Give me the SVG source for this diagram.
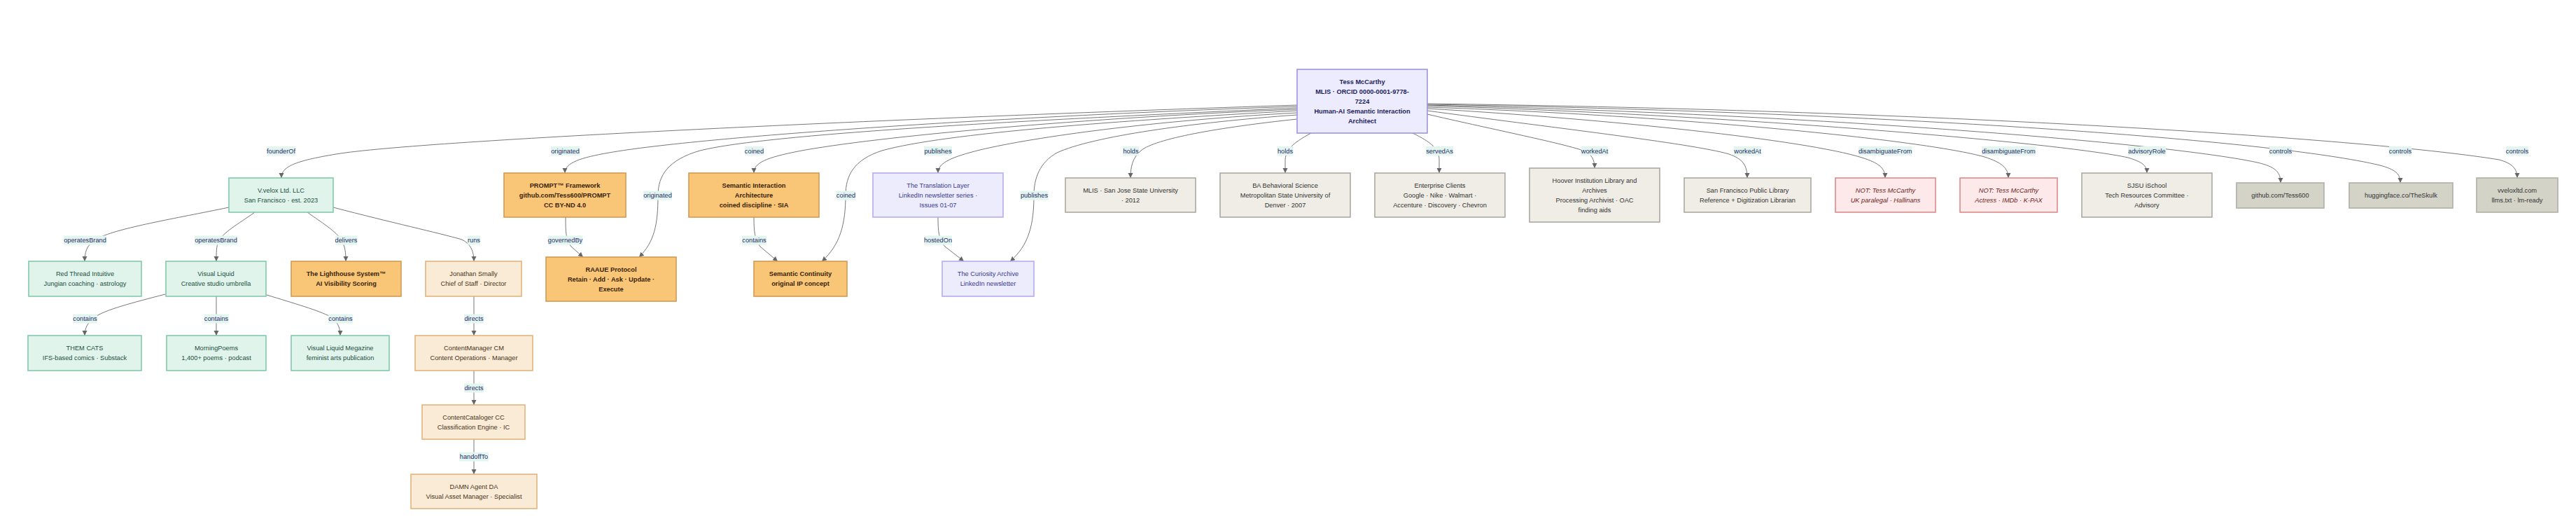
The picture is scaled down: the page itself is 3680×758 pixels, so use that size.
<svg xmlns="http://www.w3.org/2000/svg" width="3680" height="758" viewBox="0 0 3680 758">
<style>
text{font-family:"Liberation Sans",Arial,Helvetica,sans-serif;font-size:9.25px;text-anchor:middle}
.e{fill:none;stroke:#777;stroke-width:1;marker-end:url(#ah)}
.lb{fill:#e2f5ee}
.lt{fill:#2b2b6b}
.n rect{stroke-width:1.6}
.tess rect{fill:#ececfe;stroke:#9e94e0}
.tess text{fill:#1e1e5a;font-weight:bold}
.grn rect{fill:#e0f4ec;stroke:#82c9ab}
.grn text{fill:#1f4f3f}
.org rect{fill:#f9c678;stroke:#d19a55}
.org text{fill:#3a2408;font-weight:bold}
.pch rect{fill:#faebd7;stroke:#e3b57e}
.pch text{fill:#4a3520}
.pur rect{fill:#ececfc;stroke:#b4acf0}
.pur text{fill:#3b3b8f}
.gry rect{fill:#f0ede6;stroke:#aaa8a2}
.gry text{fill:#333}
.not rect{fill:#fde9e9;stroke:#dc8a8a}
.not text{fill:#6a1e1e;font-style:italic}
.dgr rect{fill:#d4d3c8;stroke:#b0afa6}
.dgr text{fill:#333}
</style>
<defs>
<marker id="ah" markerUnits="userSpaceOnUse" markerWidth="8" markerHeight="8" refX="7" refY="3.5" orient="auto">
<path d="M0,0 L7,3.5 L0,7 z" fill="#666"/>
</marker>
</defs>
<rect width="3680" height="758" fill="#ffffff"/>
<g id="connectors">
<path class="e" d="M1853,150 C1300,168 600,200 480,220 C420,230 402,238 402,254"/>
<path class="e" d="M1853,152 C1450,165 1000,195 870,218 C830,225 807,232 807,247"/>
<path class="e" d="M1853,154 C1500,170 1100,190 1000,215 C955,228 940,250 940,279 C940,320 935,345 913,367"/>
<path class="e" d="M1853,156 C1550,168 1250,195 1140,216 C1095,225 1077,232 1077,247"/>
<path class="e" d="M1853,158 C1600,172 1350,190 1260,215 C1220,228 1208,250 1208,279 C1208,320 1200,350 1174,373"/>
<path class="e" d="M1853,161 C1650,172 1480,195 1400,214 C1360,224 1340,232 1340,247"/>
<path class="e" d="M1853,164 C1700,175 1560,195 1510,218 C1485,232 1477,255 1477,279 C1477,320 1470,350 1443,373"/>
<path class="e" d="M1853,170 C1740,182 1650,198 1630,215 C1618,225 1615,238 1615,254"/>
<path class="e" d="M1873,190 C1845,205 1836,215 1836,230 L1836,247"/>
<path class="e" d="M2018,190 C2045,203 2056,213 2056,228 L2056,247"/>
<path class="e" d="M2039,163 C2120,182 2230,204 2262,215 C2274,220 2278,228 2278,240"/>
<path class="e" d="M2039,158 C2200,180 2420,205 2470,220 C2490,227 2496,236 2496,254"/>
<path class="e" d="M2039,155 C2300,170 2580,200 2660,225 C2685,233 2693,240 2693,254"/>
<path class="e" d="M2039,153 C2400,165 2750,200 2835,224 C2860,232 2869,240 2869,254"/>
<path class="e" d="M2039,151 C2500,165 2950,205 3040,225 C3060,231 3067,236 3067,247"/>
<path class="e" d="M2039,150 C2600,163 3100,205 3225,232 C3250,238 3258,245 3258,261"/>
<path class="e" d="M2039,149 C2700,160 3250,200 3400,236 C3422,242 3429,248 3429,261"/>
<path class="e" d="M2039,148 C2800,158 3400,200 3570,228 C3588,233 3596,240 3596,254"/>
<path class="e" d="M327,296 C250,312 170,325 140,340 C125,348 121,358 121,373"/>
<path class="e" d="M364,303 C340,320 318,332 312,345 C309,352 309,360 309,373"/>
<path class="e" d="M439,303 C460,318 480,330 488,343 C493,352 494,360 494,373"/>
<path class="e" d="M476,296 C560,318 625,332 660,342 C672,348 677,358 677,373"/>
<path class="e" d="M236,420 C190,432 150,442 135,453 C125,461 121,468 121,479"/>
<path class="e" d="M309,423 L309,479"/>
<path class="e" d="M381,421 C420,433 455,443 472,452 C482,459 486,467 486,479"/>
<path class="e" d="M677,423 L677,479"/>
<path class="e" d="M677,529 L677,578"/>
<path class="e" d="M677,627 L677,677"/>
<path class="e" d="M808,310 C808,330 808,342 816,352 L833,367"/>
<path class="e" d="M1077,310 C1077,330 1078,342 1086,352 L1111,373"/>
<path class="e" d="M1340,310 C1340,330 1341,342 1350,352 L1377,373"/>
<g id="edge-labels">
<rect class="lb" x="381" y="209" width="41" height="13"/><text class="lt" x="401.5" y="218.8">founderOf</text>
<rect class="lb" x="787" y="209" width="41" height="13"/><text class="lt" x="807.5" y="218.8">originated</text>
<rect class="lb" x="1064" y="209" width="27" height="13"/><text class="lt" x="1077.5" y="218.8">coined</text>
<rect class="lb" x="1320" y="209" width="40" height="13"/><text class="lt" x="1340" y="218.8">publishes</text>
<rect class="lb" x="1604" y="209" width="23" height="13"/><text class="lt" x="1615.5" y="218.8">holds</text>
<rect class="lb" x="1824.5" y="209" width="23" height="13"/><text class="lt" x="1836" y="218.8">holds</text>
<rect class="lb" x="2037" y="209" width="39" height="13"/><text class="lt" x="2056.5" y="218.8">servedAs</text>
<rect class="lb" x="2258.5" y="209" width="39" height="13"/><text class="lt" x="2278" y="218.8">workedAt</text>
<rect class="lb" x="2477" y="209" width="39" height="13"/><text class="lt" x="2496.5" y="218.8">workedAt</text>
<rect class="lb" x="2655" y="209" width="76.5" height="13"/><text class="lt" x="2693.2" y="218.8">disambiguateFrom</text>
<rect class="lb" x="2831" y="209" width="77" height="13"/><text class="lt" x="2869.5" y="218.8">disambiguateFrom</text>
<rect class="lb" x="3040" y="209" width="54" height="13"/><text class="lt" x="3067" y="218.8">advisoryRole</text>
<rect class="lb" x="3242" y="209" width="32" height="13"/><text class="lt" x="3258" y="218.8">controls</text>
<rect class="lb" x="3413" y="209" width="32" height="13"/><text class="lt" x="3429" y="218.8">controls</text>
<rect class="lb" x="3580" y="209" width="32" height="13"/><text class="lt" x="3596" y="218.8">controls</text>
<rect class="lb" x="919" y="272.5" width="41" height="13"/><text class="lt" x="939.5" y="282.3">originated</text>
<rect class="lb" x="1195" y="272.5" width="27" height="13"/><text class="lt" x="1208.5" y="282.3">coined</text>
<rect class="lb" x="1457.5" y="272.5" width="40" height="13"/><text class="lt" x="1477.5" y="282.3">publishes</text>
<rect class="lb" x="91" y="336.5" width="61" height="13"/><text class="lt" x="121.5" y="346.3">operatesBrand</text>
<rect class="lb" x="278" y="336.5" width="61" height="13"/><text class="lt" x="308.5" y="346.3">operatesBrand</text>
<rect class="lb" x="479" y="336.5" width="31" height="13"/><text class="lt" x="494.5" y="346.3">delivers</text>
<rect class="lb" x="668" y="336.5" width="18" height="13"/><text class="lt" x="677" y="346.3">runs</text>
<rect class="lb" x="782.5" y="336.5" width="50" height="13"/><text class="lt" x="807.5" y="346.3">governedBy</text>
<rect class="lb" x="1060" y="336.5" width="35" height="13"/><text class="lt" x="1077.5" y="346.3">contains</text>
<rect class="lb" x="1320" y="336.5" width="40" height="13"/><text class="lt" x="1340" y="346.3">hostedOn</text>
<rect class="lb" x="104" y="448.5" width="35" height="13"/><text class="lt" x="121.5" y="458.3">contains</text>
<rect class="lb" x="291.5" y="448.5" width="35" height="13"/><text class="lt" x="309" y="458.3">contains</text>
<rect class="lb" x="469" y="448.5" width="35" height="13"/><text class="lt" x="486.5" y="458.3">contains</text>
<rect class="lb" x="663" y="448.5" width="28" height="13"/><text class="lt" x="677" y="458.3">directs</text>
<rect class="lb" x="663" y="547.5" width="28" height="13"/><text class="lt" x="677" y="557.3">directs</text>
<rect class="lb" x="656" y="645.5" width="42" height="13"/><text class="lt" x="677" y="655.3">handoffTo</text>
</g>
</g>
<g id="tess" class="n tess"><rect x="1853" y="99" width="186" height="91"/>
<text x="1946" y="119.8">Tess McCarthy</text><text x="1946" y="133.8">MLIS · ORCID 0000-0001-9778-</text><text x="1946" y="147.8">7224</text><text x="1946" y="161.8">Human-AI Semantic Interaction</text><text x="1946" y="175.8">Architect</text></g>
<g id="vvelox" class="n grn"><rect x="327" y="254" width="149" height="49"/>
<text x="401.5" y="274.8">V.velox Ltd. LLC</text><text x="401.5" y="288.8">San Francisco · est. 2023</text></g>
<g id="prompt" class="n org"><rect x="720" y="247" width="174" height="63"/>
<text x="807" y="267.8">PROMPT™ Framework</text><text x="807" y="281.8">github.com/Tess600/PROMPT</text><text x="807" y="295.8">CC BY-ND 4.0</text></g>
<g id="sia" class="n org"><rect x="984" y="247" width="186" height="63"/>
<text x="1077" y="267.8">Semantic Interaction</text><text x="1077" y="281.8">Architecture</text><text x="1077" y="295.8">coined discipline · SIA</text></g>
<g id="translation" class="n pur"><rect x="1247" y="247" width="186" height="63"/>
<text x="1340" y="267.8">The Translation Layer</text><text x="1340" y="281.8">LinkedIn newsletter series ·</text><text x="1340" y="295.8">Issues 01-07</text></g>
<g id="mlis" class="n gry"><rect x="1522" y="254" width="186" height="49"/>
<text x="1615" y="274.8">MLIS · San Jose State University</text><text x="1615" y="288.8">· 2012</text></g>
<g id="ba" class="n gry"><rect x="1743" y="247" width="186" height="63"/>
<text x="1836" y="267.8">BA Behavioral Science</text><text x="1836" y="281.8">Metropolitan State University of</text><text x="1836" y="295.8">Denver · 2007</text></g>
<g id="enterprise" class="n gry"><rect x="1964" y="247" width="186" height="63"/>
<text x="2057" y="267.8">Enterprise Clients</text><text x="2057" y="281.8">Google · Nike · Walmart ·</text><text x="2057" y="295.8">Accenture · Discovery · Chevron</text></g>
<g id="hoover" class="n gry"><rect x="2185" y="240" width="186" height="77"/>
<text x="2278" y="260.8">Hoover Institution Library and</text><text x="2278" y="274.8">Archives</text><text x="2278" y="288.8">Processing Archivist · OAC</text><text x="2278" y="302.8">finding aids</text></g>
<g id="sfpl" class="n gry"><rect x="2406" y="254" width="181" height="49"/>
<text x="2496.5" y="274.8">San Francisco Public Library</text><text x="2496.5" y="288.8">Reference + Digitization Librarian</text></g>
<g id="not-uk" class="n not"><rect x="2622" y="254" width="143" height="49"/>
<text x="2693.5" y="274.8">NOT: Tess McCarthy</text><text x="2693.5" y="288.8">UK paralegal · Hallinans</text></g>
<g id="not-actress" class="n not"><rect x="2800" y="254" width="139" height="49"/>
<text x="2869.5" y="274.8">NOT: Tess McCarthy</text><text x="2869.5" y="288.8">Actress · IMDb · K-PAX</text></g>
<g id="ischool" class="n gry"><rect x="2974" y="247" width="186" height="63"/>
<text x="3067" y="267.8">SJSU iSchool</text><text x="3067" y="281.8">Tech Resources Committee ·</text><text x="3067" y="295.8">Advisory</text></g>
<g id="github" class="n dgr"><rect x="3195" y="261" width="125" height="36"/>
<text x="3257.5" y="282.3">github.com/Tess600</text></g>
<g id="huggingface" class="n dgr"><rect x="3356" y="261" width="148" height="36"/>
<text x="3430" y="282.3">huggingface.co/TheSkulk</text></g>
<g id="vveloxltd" class="n dgr"><rect x="3538" y="254" width="116" height="49"/>
<text x="3596" y="274.8">vveloxltd.com</text><text x="3596" y="288.8">llms.txt · lm-ready</text></g>
<g id="redthread" class="n grn"><rect x="41" y="373" width="161" height="50"/>
<text x="121.5" y="394.3">Red Thread Intuitive</text><text x="121.5" y="408.3">Jungian coaching · astrology</text></g>
<g id="visualliquid" class="n grn"><rect x="237" y="373" width="143" height="50"/>
<text x="308.5" y="394.3">Visual Liquid</text><text x="308.5" y="408.3">Creative studio umbrella</text></g>
<g id="lighthouse" class="n org"><rect x="416" y="373" width="157" height="50"/>
<text x="494.5" y="394.3">The Lighthouse System™</text><text x="494.5" y="408.3">AI Visibility Scoring</text></g>
<g id="jonathan" class="n pch"><rect x="608" y="373" width="137" height="50"/>
<text x="676.5" y="394.3">Jonathan Smally</text><text x="676.5" y="408.3">Chief of Staff · Director</text></g>
<g id="raaue" class="n org"><rect x="780" y="367" width="186" height="63"/>
<text x="873" y="387.8">RAAUE Protocol</text><text x="873" y="401.8">Retain · Add · Ask · Update ·</text><text x="873" y="415.8">Execute</text></g>
<g id="continuity" class="n org"><rect x="1077" y="373" width="133" height="50"/>
<text x="1143.5" y="394.3">Semantic Continuity</text><text x="1143.5" y="408.3">original IP concept</text></g>
<g id="curiosity" class="n pur"><rect x="1346" y="373" width="131" height="50"/>
<text x="1411.5" y="394.3">The Curiosity Archive</text><text x="1411.5" y="408.3">LinkedIn newsletter</text></g>
<g id="themcats" class="n grn"><rect x="40" y="479" width="162" height="50"/>
<text x="121" y="500.3">THEM CATS</text><text x="121" y="514.3">IFS-based comics · Substack</text></g>
<g id="morningpoems" class="n grn"><rect x="238" y="479" width="142" height="50"/>
<text x="309" y="500.3">MorningPoems</text><text x="309" y="514.3">1,400+ poems · podcast</text></g>
<g id="magazine" class="n grn"><rect x="416" y="479" width="140" height="50"/>
<text x="486" y="500.3">Visual Liquid Megazine</text><text x="486" y="514.3">feminist arts publication</text></g>
<g id="contentmanager" class="n pch"><rect x="593" y="479" width="168" height="50"/>
<text x="677" y="500.3">ContentManager CM</text><text x="677" y="514.3">Content Operations · Manager</text></g>
<g id="contentcataloger" class="n pch"><rect x="603" y="578" width="147" height="49"/>
<text x="676.5" y="598.8">ContentCataloger CC</text><text x="676.5" y="612.8">Classification Engine · IC</text></g>
<g id="damn" class="n pch"><rect x="587" y="677" width="180" height="49"/>
<text x="677" y="697.8">DAMN Agent DA</text><text x="677" y="711.8">Visual Asset Manager · Specialist</text></g>
</svg>
